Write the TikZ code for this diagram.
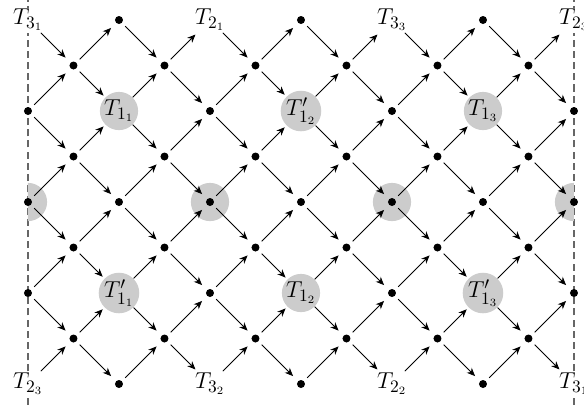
\documentclass[tikz,border=0pt]{standalone}
\usepackage{amsmath}
\usetikzlibrary{arrows.meta}

\begin{document}
\begin{tikzpicture}[
    font=\fontsize{15}{18}\selectfont,
    >={Stealth[length=5.2pt, width=4.4pt, inset=1.7pt]},
    dot/.style={circle, fill, inner sep=0pt, minimum size=5pt, outer sep=3pt},
    term/.style={fill=white, inner sep=1pt},
    site/.style={circle, fill=black!20, inner sep=0pt, minimum size=0.84cm},
    halo/.style={fill=black!20},
    flow/.style={->, line width=0.5pt, shorten >=1.5pt},
    border/.style={black!60, line width=0.65pt, dash pattern=on 4.4pt off 2.6pt}
  ]
    \useasboundingbox (-0.615,-0.46) rectangle (12.22,8.44);

    % periodic boundary
    \coordinate (lb) at (0,-0.46);  \coordinate (lt) at (0,8.44);
    \coordinate (rb) at (12,-0.46); \coordinate (rt) at (12,8.44);
    \draw[border] (lb) -- (lt);
    \draw[border] (rb) -- (rt);

    % shaded sites on the middle row
    \begin{scope}
      \clip (0,0) rectangle (12,8);
      \foreach \i in {0,4,8,12}
        \fill[halo] (\i,4) circle (0.42);
    \end{scope}

    % lattice points
    \foreach \i in {1,3,...,11}
      \foreach \j in {1,3,5,7}
        \node[dot] (p-\i-\j) at (\i,\j) {};
    \foreach \i in {0,2,...,12}
      \node[dot] (p-\i-4) at (\i,4) {};
    \foreach \i in {0,4,8,12}
      \foreach \j in {2,6}
        \node[dot] (p-\i-\j) at (\i,\j) {};
    \foreach \i in {2,6,10}
      \foreach \j in {0,8}
        \node[dot] (p-\i-\j) at (\i,\j) {};

    % tiles
    \foreach \i/\j/\lab in {2/6/{T_{1_1}}, 6/6/{T'_{1_2}}, 10/6/{T_{1_3}},
                            2/2/{T'_{1_1}}, 6/2/{T_{1_2}}, 10/2/{T'_{1_3}}}
      \node[site] (p-\i-\j) at (\i,\j) {$\lab$};

    % terminals
    \foreach \i/\j/\lab in {0/8/{T_{3_1}}, 4/8/{T_{2_1}}, 8/8/{T_{3_3}}, 12/8/{T_{2_3}},
                            0/0/{T_{2_3}}, 4/0/{T_{3_2}}, 8/0/{T_{2_2}}, 12/0/{T_{3_1}}}
      \node[term] (p-\i-\j) at (\i,\j) {$\lab$};

    % one diagonal per cell, always to the right
    \foreach \i in {0,...,11}
      \foreach \j in {0,...,7} {
        \pgfmathtruncatemacro\k{\i+1}
        \pgfmathtruncatemacro\m{\j+1}
        \pgfmathtruncatemacro\odd{mod(\i+\j,2)}
        \ifnum\odd=0
          \draw[flow] (p-\i-\j) -- (p-\k-\m);
        \else
          \draw[flow] (p-\i-\m) -- (p-\k-\j);
        \fi
      }
\end{tikzpicture}
\end{document}
